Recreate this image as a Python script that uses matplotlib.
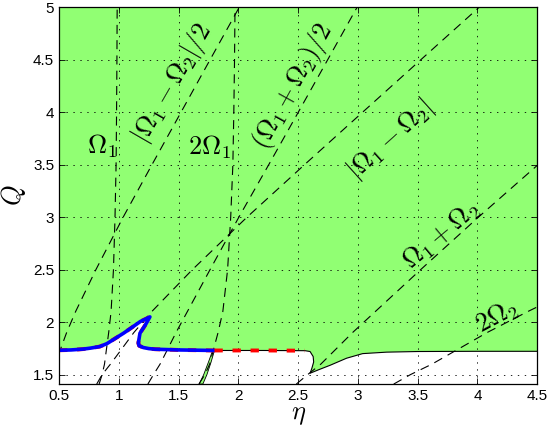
import matplotlib
matplotlib.use("Agg")
import matplotlib.pyplot as plt

plt.rcParams['mathtext.fontset'] = 'cm'
plt.rcParams['font.family'] = ['Liberation Sans', 'DejaVu Sans']
plt.rcParams['lines.scale_dashes'] = False

# Q samples for the resonance curves
Q = [1.41, 1.5, 1.6, 1.73, 1.9, 2.1, 2.5, 3.0, 3.5, 4.0, 4.5, 5.0]

# eta positions of each dashed resonance line at those Q values
eta_W1 = [0.835, 0.86, 0.88, 0.895, 0.915, 0.935, 0.955, 0.968, 0.977, 0.981, 0.984, 0.986]
eta_2W1 = [1.67, 1.72, 1.76, 1.79, 1.83, 1.87, 1.91, 1.936, 1.954, 1.962, 1.968, 1.972]
eta_dW_half = [0.41, 0.43, 0.465, 0.508, 0.563, 0.638, 0.808, 1.036, 1.277, 1.52, 1.763, 2.007]
eta_sW_half = [1.243, 1.29, 1.345, 1.403, 1.478, 1.573, 1.763, 2.004, 2.254, 2.501, 2.747, 2.993]
eta_dW = [0.815, 0.86, 0.93, 1.015, 1.125, 1.275, 1.615, 2.072, 2.553, 3.039, 3.526, 4.014]
eta_sW = [2.485, 2.58, 2.69, 2.805, 2.955, 3.145, 3.525, 4.008, 4.507, 5.001, 5.494, 5.986]
eta_2W2 = [3.30, 3.44, 3.62, 3.82, 4.08, 4.42, 5.14, 6.08, 7.06, 8.04, 9.02, 10.0]

# stability boundary (green = stable region above it)
bnd_eta = [0.5, 0.6, 0.7, 0.76, 0.84, 0.9, 0.97, 1.04, 1.11, 1.18, 1.26,
           1.22, 1.177, 1.163, 1.17, 1.205, 1.25, 1.303, 1.5, 1.8,
           2.2, 2.557, 2.6, 2.626, 2.63, 2.615, 2.6,
           2.68, 2.77, 2.905, 3.04, 3.24, 3.5, 4.0, 4.5]
bnd_Q = [1.732, 1.735, 1.743, 1.752, 1.767, 1.795, 1.845, 1.895, 1.95, 2.006, 2.05,
         1.97, 1.895, 1.80, 1.775, 1.758, 1.748, 1.742, 1.735, 1.73,
         1.73, 1.728, 1.72, 1.672, 1.62, 1.56, 1.513,
         1.55, 1.59, 1.656, 1.70, 1.714, 1.72, 1.722, 1.722]

# blue part of boundary and red dashed part
blue_eta = bnd_eta[:20]
blue_Q = bnd_Q[:20]
red_eta = [1.8, 2.2, 2.557]
red_Q = [1.73, 1.73, 1.728]

# thin green tongue along 2*Omega_1 below the boundary
tongue_eta = [1.785, 1.75, 1.71, 1.672, 1.703, 1.737, 1.772, 1.80]
tongue_Q = [1.73, 1.62, 1.50, 1.41, 1.41, 1.50, 1.62, 1.73]

green = '#91FF73'

fig = plt.figure(figsize=(5.47, 4.32), dpi=100)
ax = fig.add_axes([0.108, 0.111, 0.874, 0.872])

poly_eta = bnd_eta + [4.5, 0.5]
poly_Q = bnd_Q + [5.0, 5.0]
ax.fill(poly_eta, poly_Q, color=green, lw=0, zorder=1)
ax.plot(bnd_eta, bnd_Q, color='k', lw=0.8, zorder=3)
ax.fill(tongue_eta, tongue_Q, facecolor=green, edgecolor='k', lw=0.6, zorder=3)

dash = (6.5, 4.5)
for eta in [eta_W1, eta_2W1, eta_dW_half, eta_sW_half, eta_dW, eta_sW, eta_2W2]:
    ax.plot(eta, Q, color='k', lw=0.8, dashes=dash, zorder=4)

ax.plot(blue_eta, blue_Q, color='red', lw=2.8, dashes=(6, 7), zorder=5)
ax.plot(blue_eta, blue_Q, color='blue', lw=2.6, zorder=6,
        solid_capstyle='round', solid_joinstyle='round')
ax.plot(red_eta, red_Q, color='red', lw=2.8, dashes=(6, 7), zorder=6)

fs = 19
ax.text(0.857, 3.68, r'$\Omega_1$', fontsize=fs, ha='center', va='center', zorder=7)
ax.text(1.76, 3.67, r'$2\Omega_1$', fontsize=fs, ha='center', va='center', zorder=7)
ax.text(1.45, 4.28, r'$|\Omega_1-\Omega_2|/2$', fontsize=fs, rotation=60,
        ha='center', va='center', zorder=7)
ax.text(2.46, 4.25, r'$(\Omega_1+\Omega_2)/2$', fontsize=fs, rotation=61,
        ha='center', va='center', zorder=7)
ax.text(3.27, 3.74, r'$|\Omega_1-\Omega_2|$', fontsize=fs, rotation=42,
        ha='center', va='center', zorder=7)
ax.text(3.70, 2.83, r'$\Omega_1+\Omega_2$', fontsize=fs, rotation=40,
        ha='center', va='center', zorder=7)
ax.text(4.16, 2.05, r'$2\Omega_2$', fontsize=fs, rotation=28,
        ha='center', va='center', zorder=7)

ax.set_xlim(0.5, 4.5)
ax.set_ylim(1.41, 5)
ax.set_xticks([0.5, 1, 1.5, 2, 2.5, 3, 3.5, 4, 4.5])
ax.set_xticklabels(['0.5', '1', '1.5', '2', '2.5', '3', '3.5', '4', '4.5'])
ax.set_yticks([1.5, 2, 2.5, 3, 3.5, 4, 4.5, 5])
ax.set_yticklabels(['1.5', '2', '2.5', '3', '3.5', '4', '4.5', '5'])
ax.tick_params(direction='in', top=True, right=True, labelsize=11, length=4, width=0.6)
ax.grid(True, color='k', linestyle=(0, (1, 4)), lw=0.6)
for g in ax.get_xgridlines() + ax.get_ygridlines():
    g.set_zorder(2)
for s in ax.spines.values():
    s.set_linewidth(0.9)
    s.set_zorder(8)

ax.set_xlabel(r'$\eta$', fontsize=19, labelpad=0)
ax.set_ylabel(r'$Q$', fontsize=19, labelpad=4)

fig.savefig('out.png', dpi=100)
